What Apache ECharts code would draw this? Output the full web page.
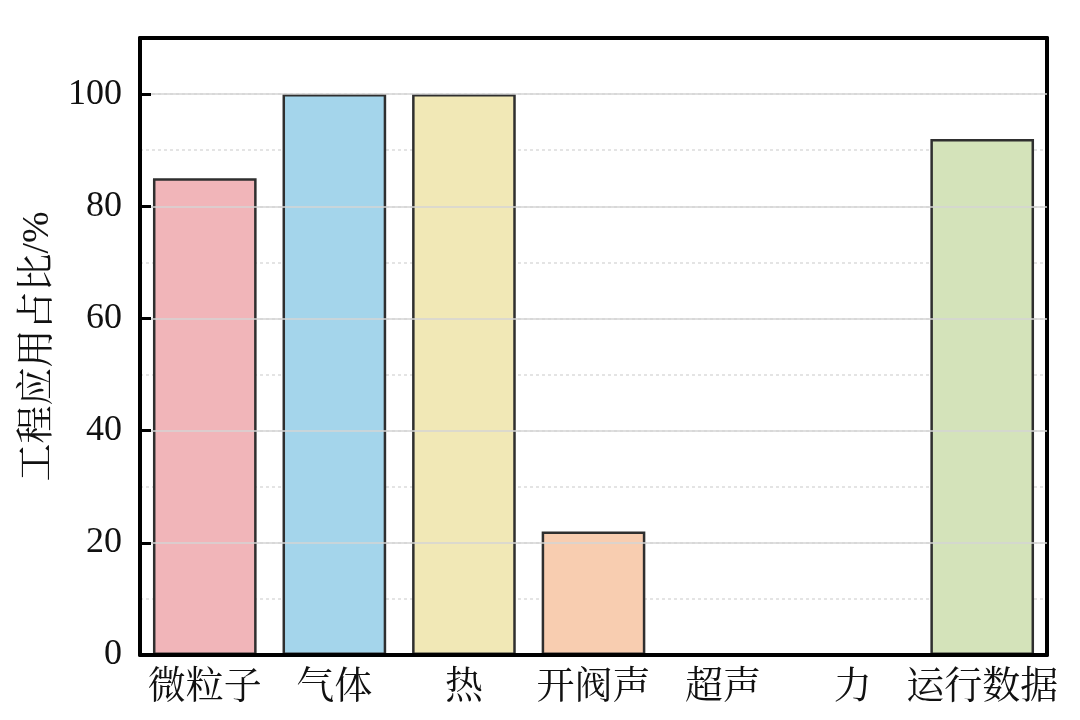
<!DOCTYPE html>
<html>
<head>
<meta charset="utf-8">
<script src="https://cdn.jsdelivr.net/npm/echarts@6/dist/echarts.min.js"></script>
<style>
  html, body { margin: 0; padding: 0; background: #fff; }
  #chart { width: 1080px; height: 720px; }
</style>
</head>
<body>
<div id="chart"></div>
<script>
// Share of engineering applications by monitoring signal type
const categories = ['微粒子', '气体', '热', '开阀声', '超声', '力', '运行数据'];
const shares = [85, 100, 100, 22, 0, 0, 92];
const barColors = ['#f1b5b9', '#a4d5eb', '#f1e8b6', '#f8cdb0', '#d9e9c5', '#e0e0e0', '#d4e3ba'];
const yTicks = [0, 20, 40, 60, 80, 100];

const serif = '"Liberation Serif", "Times New Roman", "Noto Serif CJK SC", "Noto Sans CJK SC", serif';
const frameLine = { show: true, onZero: false, lineStyle: { color: '#000', width: 4 } };

const chart = echarts.init(document.getElementById('chart'));
chart.setOption({
  backgroundColor: '#ffffff',
  animation: false,
  grid: { left: 140, right: 33, top: 38, bottom: 65 },
  xAxis: [
    {
      type: 'category',
      data: categories,
      axisLine: frameLine,
      axisTick: { show: false },
      axisLabel: { color: '#111', fontFamily: serif, fontSize: 38, margin: 14, interval: 0 },
      z: 6
    },
    {
      // top edge of the frame
      type: 'category',
      data: categories,
      position: 'top',
      axisLine: frameLine,
      axisTick: { show: false },
      axisLabel: { show: false },
      z: 6
    }
  ],
  yAxis: [
    {
      type: 'value',
      min: 0, max: 110, interval: 20,
      name: '工程应用占比/%',
      nameLocation: 'middle',
      nameGap: 82,
      nameTextStyle: { color: '#111', fontFamily: serif, fontSize: 38 },
      axisLine: frameLine,
      axisTick: { show: true, inside: true, length: 11, lineStyle: { color: '#000', width: 3 } },
      axisLabel: {
        color: '#111', fontFamily: serif, fontSize: 36, margin: 18,
        formatter: v => (yTicks.indexOf(v) >= 0 ? String(v) : '')
      },
      splitLine: { show: true, lineStyle: { color: '#d4d4d4', width: 1.5 } },
      z: 6
    },
    {
      // minor dotted grid every 10 units; also carries the right edge of the frame
      type: 'value',
      min: 0, max: 110, interval: 10,
      position: 'right',
      axisLine: frameLine,
      axisTick: { show: false },
      axisLabel: { show: false },
      splitLine: { show: true, lineStyle: { color: '#dcdcdc', width: 1.5, type: [3, 3] } },
      z: 1
    }
  ],
  series: [{
    type: 'bar',
    xAxisIndex: 0,
    yAxisIndex: 0,
    data: shares.map((v, i) => ({
      value: v,
      itemStyle: { color: barColors[i], borderWidth: v === 0 ? 0 : 2.5 }
    })),
    barCategoryGap: '20%',
    itemStyle: { borderColor: '#2f2f2f' },
    z: 5
  }]
});
</script>
</body>
</html>
